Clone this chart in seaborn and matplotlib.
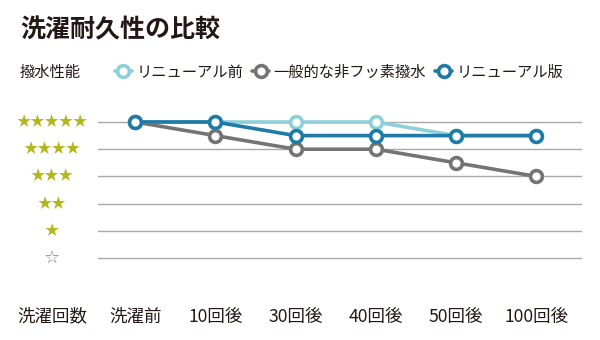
import matplotlib
matplotlib.use("Agg")
import matplotlib.pyplot as plt
from matplotlib.lines import Line2D
from matplotlib.transforms import blended_transform_factory
import seaborn as sns

sns.set_theme(style="white")
plt.rcParams["font.family"] = ["Noto Sans CJK JP", "DejaVu Sans"]

# Data
wash_labels = ["洗濯前", "10回後", "30回後", "40回後", "50回後", "100回後"]
before_renewal = [5, 5, 5, 5, 4.5, 4.5]      # リニューアル前
generic_nonfluoro = [5, 4.5, 4, 4, 3.5, 3]   # 一般的な非フッ素撥水
after_renewal = [5, 5, 4.5, 4.5, 4.5, 4.5]   # リニューアル版
rating_labels = ["☆", "★", "★★", "★★★", "★★★★", "★★★★★"]
series_names = ["リニューアル前", "一般的な非フッ素撥水", "リニューアル版"]

TEXT = "#231815"
C_LIGHT = "#8fd0d8"
C_GRAY = "#747474"
C_BLUE = "#1f7aa6"
STAR = "#b3b71e"

fig = plt.figure(figsize=(6, 3.4), dpi=100)
W, H = 600, 340
ax_top, ax_bot = 108.4, 271.6
ax = fig.add_axes([98 / W, 1 - ax_bot / H, (582 - 98) / W, (ax_bot - ax_top) / H])

x = list(range(len(wash_labels)))
style = dict(marker="o", markersize=8.5, markerfacecolor="white",
             markeredgewidth=2.6, linewidth=2.6, clip_on=False)

sns.lineplot(x=x, y=generic_nonfluoro, ax=ax, color=C_GRAY,
             markeredgecolor=C_GRAY, zorder=3, **style)
sns.lineplot(x=x, y=before_renewal, ax=ax, color=C_LIGHT,
             markeredgecolor=C_LIGHT, zorder=4, **style)
sns.lineplot(x=x, y=after_renewal, ax=ax, color=C_BLUE,
             markeredgecolor=C_BLUE, zorder=5, **style)

ax.set_xlim(-0.4625, 5.57)
ax.set_ylim(-0.5, 5.5)
for lvl in range(6):
    ax.axhline(lvl, color="#a9a9a9", linewidth=1, zorder=1)

for s in ax.spines.values():
    s.set_visible(False)

ax.set_yticks([])
ax.set_xticks(x)
ax.set_xticklabels(wash_labels, fontsize=12.6, color=TEXT)
ax.tick_params(axis="x", length=0, pad=26)

# star ratings on the left
tr = blended_transform_factory(fig.transFigure, ax.transData)
for lvl, lab in enumerate(rating_labels):
    ax.text(52 / W, lvl, lab, transform=tr, ha="center", va="center",
            fontsize=10.3, color=STAR if lvl > 0 else "#8a8a8a",
            family=["Noto Sans CJK JP", "DejaVu Sans"])

fig.text(20 / W, 1 - 30 / H, "洗濯耐久性の比較", fontsize=18, fontweight="bold",
         color=TEXT, va="center", ha="left")
fig.text(20 / W, 1 - 72 / H, "撥水性能", fontsize=11, color=TEXT,
         va="center", ha="left")
fig.text(17 / W, 1 - 316 / H, "洗濯回数", fontsize=12.6, color=TEXT,
         va="center", ha="left")

handles = [Line2D([], [], color=c, marker="o", markersize=8.5,
                  markerfacecolor="white", markeredgecolor=c,
                  markeredgewidth=2.6, linewidth=2.6)
           for c in (C_LIGHT, C_GRAY, C_BLUE)]
leg = fig.legend(handles, series_names, loc="center left",
                 bbox_to_anchor=(115 / W, 1 - 72 / H), ncol=3, frameon=False,
                 handlelength=1.1, handletextpad=0.3, columnspacing=0.6,
                 fontsize=11, borderaxespad=0, borderpad=0)
for t in leg.get_texts():
    t.set_color(TEXT)

fig.savefig("out.png", dpi=100, facecolor="white")
